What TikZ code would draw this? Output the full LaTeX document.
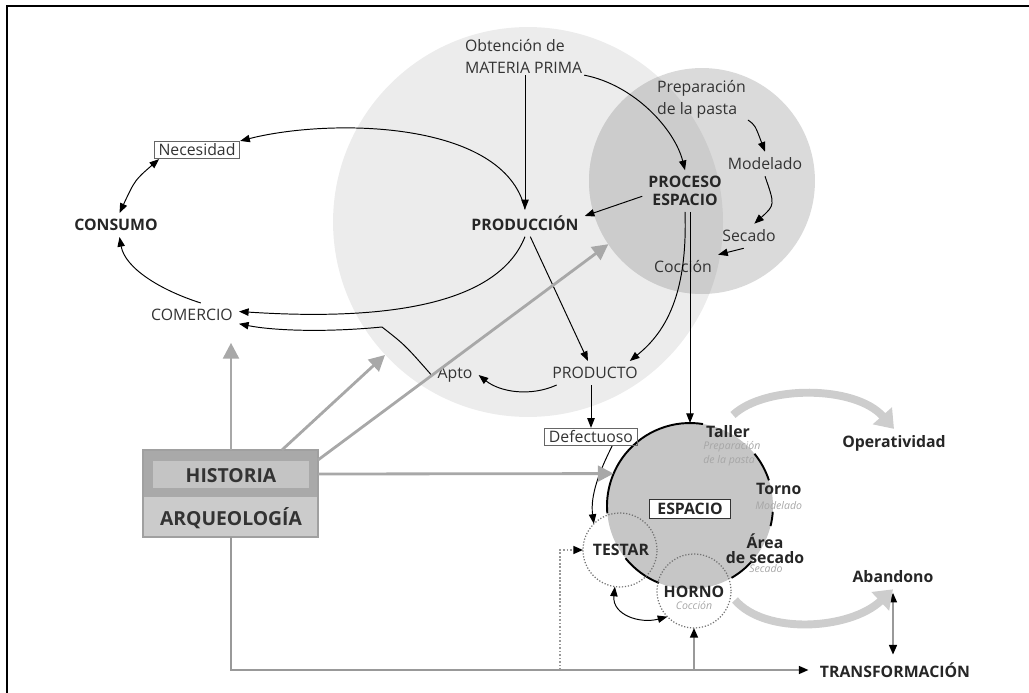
\documentclass[tikz,border=0pt]{standalone}
\usepackage{fontspec}
\setmainfont{Open Sans}
\usetikzlibrary{arrows.meta,calc}
\definecolor{bigc}{HTML}{ECECEC}
\definecolor{procc}{HTML}{DADADA}
\definecolor{midc}{HTML}{CCCCCC}
\definecolor{espc}{HTML}{C6C6C6}
\definecolor{txt}{HTML}{333333}
\definecolor{subc}{HTML}{A6A6A6}
\definecolor{garr}{HTML}{A8A8A8}
\definecolor{fatc}{HTML}{CDCDCD}
\definecolor{boxdark}{HTML}{A9A9A9}
\definecolor{boxmid}{HTML}{C4C4C4}
\definecolor{boxlight}{HTML}{CBCBCB}
\definecolor{boxedge}{HTML}{A0A0A0}
\definecolor{gline}{HTML}{999999}
\begin{document}
\begin{tikzpicture}[x=0.02cm, y=0.02cm, text=txt,
		font=\fontsize{9}{12.5}\selectfont,
		bf/.style={font=\fontsize{9}{10}\selectfont\bfseries, text=black!85},
		sub/.style={font=\fontsize{6}{8}\selectfont\itshape, text=subc, inner sep=0pt},
		tbox/.style={draw=black!60, inner xsep=2.5pt, inner ysep=1.5pt},
		zone/.style={circle, inner sep=0pt, outer sep=0pt, minimum size=#1},
		ar/.style={line width=0.55pt, -{Triangle[length=5.5pt,width=4.2pt]}},
		ar2/.style={line width=0.55pt, {Triangle[length=5.5pt,width=4.2pt]}-{Triangle[length=5.5pt,width=4.2pt]}},
		gar/.style={line width=1.6pt, draw=garr, -{Triangle[length=9pt,width=9pt]}},
		fat/.style={line width=4.5pt, draw=fatc, -{Triangle[length=10pt,width=14pt]}},
		gl/.style={line width=1pt, draw=gline, -{Triangle[length=5.5pt,width=4.5pt,color=black]}},
		hist/.style={font=\fontsize{11}{12}\selectfont\bfseries, text=black!80}]
		\useasboundingbox (0,0) rectangle (1029,-693);
		% frame
		\draw[line width=1.2pt] (7,-693) -- (7,-6) -- (1029,-6);
		
		% zones
		\node[zone=7.8cm, fill=bigc] (bcirc) at (528,-222) {};
		\node[zone=4.52cm, fill=procc] (pcirc) at (702,-181) {};
		\begin{scope}
			\clip (528,-222) circle (195);
			\fill[midc] (702,-181) circle (113);
		\end{scope}
		\node[zone=3.32cm, fill=espc] (ecirc) at (690,-506) {};
		\foreach \a/\b in {81/185, 219/248, 300/318, 346/356, 18/39} {
			\draw[line width=1.1pt] (ecirc.\a) arc (\a:\b:83);
		};
		\node[zone=1.48cm, draw=black!55, densely dotted, line width=0.7pt] (tcirc) at (620,-550) {};
		\node[zone=1.48cm, draw=black!55, densely dotted, line width=0.7pt] (hcirc) at (694,-591) {};
		
		% historia box
		\fill[boxlight] (143,-450) rectangle (318,-537);
		\fill[boxdark] (143,-450) rectangle (318,-497);
		\fill[boxmid] (153,-461) rectangle (309,-488);
		\draw[boxedge, line width=0.8pt] (143,-450) rectangle (318,-537);
		\node[hist] (historia) at (231,-476) {HISTORIA};
		\node[hist] (arqueo) at (231,-518) {ARQUEOLOGÍA};
		\coordinate (hnorth) at (231,-450);
		\coordinate (hsouth) at (231,-537);
		
		% labels
		\node[bf] (consumo) at (116,-225) {CONSUMO};
		\node[tbox] (necesidad) at (197,-150) {Necesidad};
		\node (comercio) at (192,-315) {COMERCIO};
		\node[bf] (produccion) at (525,-223) {PRODUCCIÓN};
		\node[align=left, anchor=west, inner sep=1pt] (materia) at (463,-56) {Obtención de\\MATERIA PRIMA};
		\node[bf, align=center] (proceso) at (685,-191) {PROCESO\\ESPACIO};
		\node[align=left, anchor=west, inner sep=1pt] (pasta) at (655,-99) {Preparación\\de la pasta};
		\node (modelado) at (765,-164) {Modelado};
		\node (secado) at (749,-236) {Secado};
		\node (coccion) at (683,-267) {Cocción};
		\node (producto) at (595,-373) {PRODUCTO};
		\node (apto) at (455,-375) {Apto};
		\node[tbox] (defectuoso) at (591,-437) {Defectuoso};
		
		\node[bf, anchor=west] (taller) at (700,-432) {Taller};
		\node[sub, align=left, anchor=west] at (703,-454) {Preparación\\de la pasta};
		\node[bf, anchor=west] (torno) at (750,-489) {Torno};
		\node[sub, anchor=west] at (755,-506) {Modelado};
		\node[bf, align=center, font=\fontsize{9}{8.5}\selectfont\bfseries] (area) at (765,-549) {Área\\de secado};
		\node[sub] at (766,-569) {Secado};
		\node[bf, draw=black!80, fill=white, inner xsep=4.5pt, inner ysep=2pt] (espacio) at (690,-509) {ESPACIO};
		\node[bf] (testar) at (621,-550) {TESTAR};
		\node[bf] (horno) at (694,-592) {HORNO};
		\node[sub] at (694,-606) {Cocción};
		\node[bf] (operat) at (894,-443) {Operatividad};
		\node[bf] (abandono) at (893,-577) {Abandono};
		\node[bf] (transf) at (895,-670) {TRANSFORMACIÓN};
		
		% consumo cycle
		\draw[ar] (produccion.north) .. controls (505,-120) and (330,-118) .. (necesidad.north east);
		\draw[ar] (produccion.south) .. controls (500,-300) and (400,-322) .. ([yshift=2pt]comercio.east);
		\draw[ar] (apto.west) .. controls (405,-345) .. (382,-327) .. controls (320,-333) and (270,-330) .. ([yshift=-5pt]comercio.east);
		\draw[ar] ([xshift=5pt]comercio.north) .. controls (160,-290) and (125,-268) .. ([xshift=2pt]consumo.south);
		\draw[ar2] ([xshift=3pt]necesidad.south west) .. controls (135,-180) .. ([xshift=2pt]consumo.north);
		
		% production
		\draw[ar] (materia.south -| produccion.north) -- (produccion.north);
		\draw[ar] (materia.south east) .. controls (635,-85) and (675,-130) .. (proceso.north);
		\draw[ar] ([yshift=-3pt]proceso.west) -- ([yshift=4pt]produccion.east);
		\draw[ar] (pasta.south east) .. controls (755,-125) .. (modelado.north);
		\draw[ar] (modelado.south) .. controls (775,-205) .. ([xshift=3pt]secado.north);
		\draw[ar] ([xshift=-3pt]secado.south) -- (coccion.north east);
		\draw[ar] (proceso.south) .. controls (688,-300) and (662,-335) .. ([xshift=-8pt]producto.north east);
		\draw[ar] ([xshift=3pt]produccion.south) -- ([xshift=-4pt]producto.north);
		\draw[ar] ([xshift=6pt]producto.south west) .. controls (530,-397) and (500,-392) .. (apto.east);
		\draw[ar] (producto.south -| defectuoso.north) -- (defectuoso.north);
		\draw[ar] (proceso.south -| ecirc.north) -- (ecirc.north);
		
		% workshop
		\draw[ar] ([xshift=12pt]defectuoso.south) .. controls (600,-470) and (590,-495) .. (tcirc.135);
		\draw[ar2] (tcirc.262) .. controls (612,-615) and (640,-624) .. (hcirc.224);
		\coordinate (tfeed) at (560,-670);
		\draw[gl, densely dotted] (tfeed) |- (tcirc.west);
		\draw[gl] (hcirc.south |- transf) -- (hcirc.south);
		\draw[gl] (hsouth) |- ([xshift=-3pt]transf.west);
		\draw[line width=1pt, draw=gline, {Triangle[length=5.5pt,width=4.5pt,color=black]}-{Triangle[length=5.5pt,width=4.5pt,color=black]}]
			([yshift=-2pt]abandono.south) -- ([yshift=1pt]abandono.south |- transf.north);
		
		% fat arrows
		\coordinate (opstart) at (733,-415);
		\coordinate (abstart) at (735,-600);
		\draw[fat] (opstart) .. controls (765,-385) and (855,-385) .. (operat.north);
		\draw[fat] (abstart) .. controls (765,-635) and (850,-630) .. (abandono.south);
		
		% historia arrows
		\coordinate (prodzone) at (385,-355);
		\draw[gar] (hnorth) -- ([yshift=-9pt]hnorth |- comercio.south);
		\draw[gar] ([xshift=29pt]hnorth) -- (prodzone);
		\draw[gar] (318,-460) -- (pcirc.214);
		\draw[gar] (318,-474) -- (ecirc.157);
\end{tikzpicture}
\end{document}
